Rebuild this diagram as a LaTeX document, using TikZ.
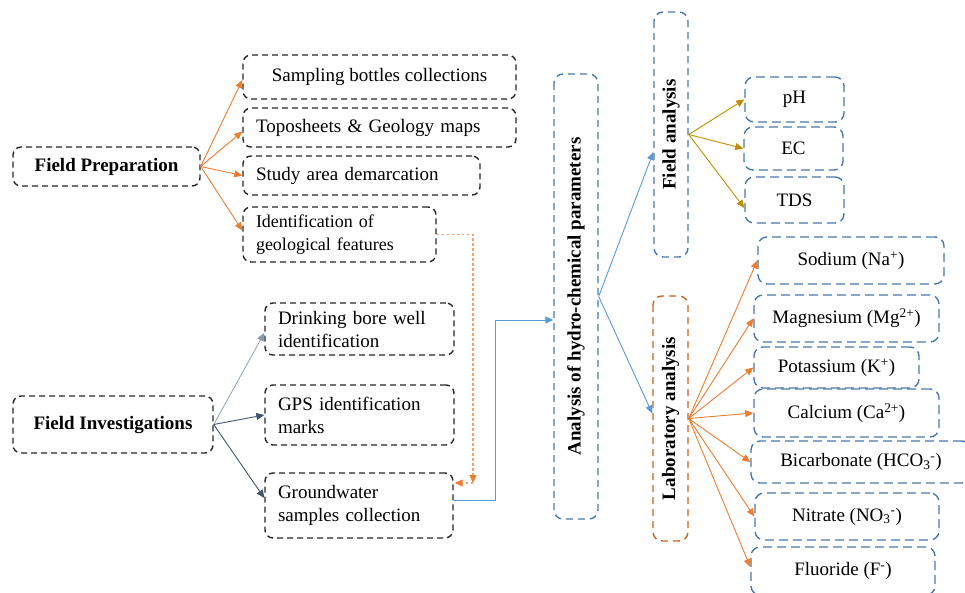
\documentclass[tikz,border=0pt]{standalone}
\usepackage{fontspec}
\setmainfont{Liberation Serif}
\usetikzlibrary{arrows.meta,calc}
\definecolor{dk}{HTML}{262626}
\definecolor{stl}{HTML}{4A78A8}
\definecolor{labor}{HTML}{C8641E}
\definecolor{orar}{HTML}{ED7D31}
\definecolor{orlt}{HTML}{F4A46A}
\definecolor{goldar}{HTML}{BF9000}
\definecolor{bluar}{HTML}{5B9BD5}
\definecolor{slate}{HTML}{44546A}
\definecolor{slatelt}{HTML}{8497B0}
\begin{document}
\begin{tikzpicture}[x=1pt,y=-1pt,
 every node/.style={font=\fontsize{19}{23}\selectfont, inner sep=0pt},
 kbox/.style={draw=dk, line width=1.4pt, dash pattern=on 6pt off 4pt, rounded corners=8pt},
 lbox/.style={kbox, align=left, inner xsep=13pt},
 bbox/.style={draw=stl, line width=1.4pt, dash pattern=on 9pt off 5pt, rounded corners=9pt},
 vbox/.style={line width=1.4pt, dash pattern=on 7pt off 5pt, rounded corners=9pt, rotate=90, font=\fontsize{19}{23}\selectfont\bfseries},
 con/.style={line width=0.9pt, -{Triangle[length=8pt,width=7pt]}},
 dotl/.style={draw=orlt, line width=1.2pt, dash pattern=on 2.5pt off 2.5pt, -{Triangle[length=8pt,width=7pt,color=orar]}},
]
\useasboundingbox (0,0) rectangle (965,592);
\clip (0,0) rectangle (965,592);

% left column
\node[kbox, minimum width=187, minimum height=39, font=\fontsize{19}{23}\selectfont\bfseries] (fp) at (106.5,166.5) {Field Preparation};
\node[kbox, minimum width=200, minimum height=57, font=\fontsize{19}{23}\selectfont\bfseries] (fi) at (113,424.5) {Field Investigations};

% preparation items
\node[kbox, minimum width=273, minimum height=44] (sb) at (379.5,77) {Sampling bottles collections};
\node[lbox, text width=247, minimum height=39] (ts) at (379.5,127.5) {Toposheets \& Geology maps};
\node[lbox, text width=211, minimum height=39] (sa) at (361.5,175.5) {Study area demarcation};
\node[lbox, text width=167, minimum height=55, font=\fontsize{18}{23}\selectfont] (ident) at (339.5,234.5) {Identification of\\geological features};

% investigation items
\node[lbox, text width=163, minimum height=52] (db) at (359.5,329) {Drinking bore well\\identification};
\node[lbox, text width=163, minimum height=60] (gps) at (359.5,415) {GPS identification\\marks};
\node[lbox, text width=162, minimum height=65] (gw) at (359,505.5) {Groundwater\\samples collection};

% vertical boxes
\node[vbox, draw=stl, minimum width=445, minimum height=44] (an) at (576,296.5) {Analysis of hydro-chemical parameters};
\node[vbox, draw=stl, minimum width=245, minimum height=34] (fa) at (671,134.5) {Field analysis};
\node[vbox, draw=labor, minimum width=245, minimum height=35] (lab) at (670.5,418.5) {Laboratory analysis};

% field parameters
\node[bbox, minimum width=99, minimum height=45] (ph) at (794.5,99.5) {pH};
\node[bbox, minimum width=99, minimum height=43] (ec) at (793.5,148.5) {EC};
\node[bbox, minimum width=99, minimum height=46] (tds) at (794.5,200) {TDS};

% lab parameters
\node[bbox, minimum width=186, minimum height=47] (na) at (851,260.5) {Sodium (Na\textsuperscript{+})};
\node[bbox, minimum width=185, minimum height=47] (mg) at (846.5,318.5) {Magnesium (Mg\textsuperscript{2+})};
\node[bbox, minimum width=165, minimum height=41] (kk) at (836.5,367.5) {Potassium (K\textsuperscript{+})};
\node[bbox, minimum width=185, minimum height=48] (ca) at (846.5,413) {Calcium (Ca\textsuperscript{2+})};
\node[bbox, minimum width=220, minimum height=42] (hco) at (861,462) {Bicarbonate (HCO\textsubscript{3}\textsuperscript{-})};
\node[bbox, minimum width=184, minimum height=47] (no) at (847,516.5) {Nitrate (NO\textsubscript{3}\textsuperscript{-})};
\node[bbox, minimum width=184, minimum height=48] (ff) at (843,571) {Fluoride (F\textsuperscript{-})};

% connectors: field preparation
\draw[con, draw=orar] (fp.east) -- ($(sb.west)+(0,3)$);
\draw[con, draw=orar] (fp.east) -- ($(ts.west)+(0,4)$);
\draw[con, draw=orar] (fp.east) -- (sa.west);
\draw[con, draw=orar] (fp.east) -- ($(ident.west)+(0,-4)$);

% dotted link
\coordinate (dc) at (473,483);
\draw[dotl] (ident.east) -| (dc);
\draw[dotl] (dc) -- ($(gw.east)+(1,-22.5)$);

% connectors: field investigations
\draw[con, draw=slatelt, line width=0.7pt] (fi.east) -- ($(db.west)+(0,4)$);
\draw[con, draw=slate] (fi.east) -- (gps.west);
\draw[con, draw=slate] (fi.east) -- ($(gw.west)+(0,-7.5)$);

% groundwater to analysis
\coordinate (bk) at (495,500);
\draw[con, draw=bluar] ($(gw.east)+(0,-5.5)$) -- (bk) |- ($(an.north)+(0,23.5)$);

% analysis to field / lab
\draw[con, draw=bluar] (an.south) -- ($(fa.north)+(0,17.5)$);
\draw[con, draw=bluar] (an.south) -- ($(lab.north)+(0,-5)$);

% field analysis to parameters
\draw[con, draw=goldar] (fa.south) -- (ph.west);
\draw[con, draw=goldar] (fa.south) -- (ec.west);
\draw[con, draw=goldar] (fa.south) -- ($(tds.west)+(0,8)$);

% lab analysis to parameters
\foreach \t in {na,mg,kk,ca,hco,no} {
  \draw[con, draw=orar] (lab.south) -- (\t.west);
}
\draw[con, draw=orar] (lab.south) -- ($(ff.west)+(0,-4)$);
\end{tikzpicture}
\end{document}
